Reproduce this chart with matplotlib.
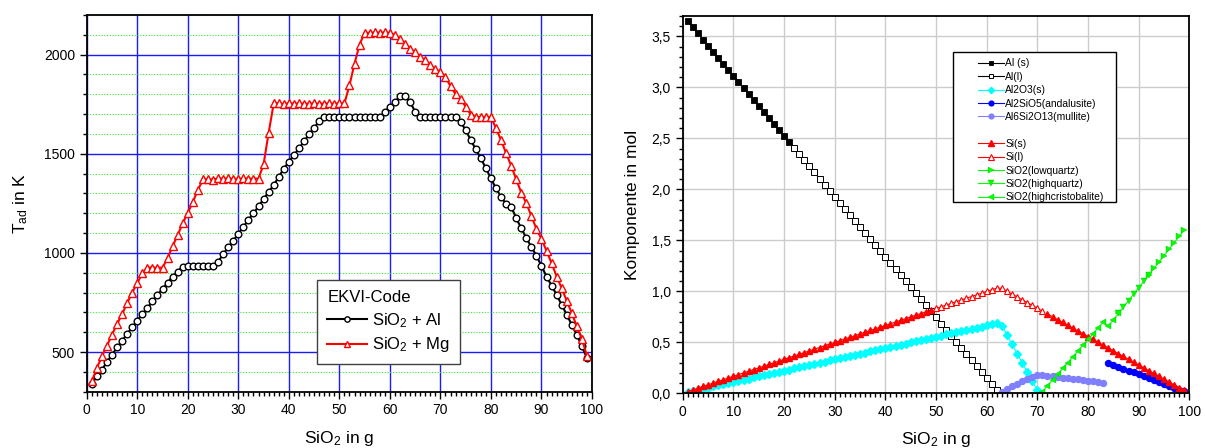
import matplotlib
matplotlib.use('Agg')
import numpy as np
import matplotlib.pyplot as plt
from matplotlib.lines import Line2D
from matplotlib.patches import Rectangle
from matplotlib.ticker import MultipleLocator, FuncFormatter

plt.rcParams['font.family'] = ['Liberation Sans', 'DejaVu Sans']
plt.rcParams['mathtext.fontset'] = 'custom'
plt.rcParams['mathtext.rm'] = 'Liberation Sans'
plt.rcParams['mathtext.it'] = 'Liberation Sans:italic'
plt.rcParams['mathtext.bf'] = 'Liberation Sans:bold'

# ---------------- left chart data ----------------
sio2_g = list(range(1, 100))
t_al = [339, 377, 411, 450, 486, 523, 558, 591, 626, 659,
        691, 722, 755, 788, 819, 850, 881, 906, 931, 934,
        934, 934, 935, 935, 934, 956, 993, 1029, 1062, 1096,
        1132, 1167, 1200, 1235, 1272, 1308, 1342, 1384, 1425, 1460,
        1493, 1527, 1563, 1598, 1632, 1663, 1684, 1685, 1685, 1685,
        1685, 1685, 1685, 1685, 1685, 1685, 1685, 1685, 1711, 1737,
        1762, 1790, 1790, 1762, 1711, 1686, 1685, 1685, 1685, 1685,
        1685, 1685, 1685, 1661, 1619, 1569, 1522, 1477, 1426, 1376,
        1325, 1283, 1247, 1233, 1175, 1124, 1075, 1030, 986, 934,
        881, 835, 788, 738, 688, 637, 587, 528, 470]
t_mg = [352, 419, 478, 532, 587, 641, 691, 747, 800, 847,
        898, 926, 926, 925, 926, 973, 1035, 1090, 1150, 1201,
        1258, 1317, 1371, 1372, 1370, 1376, 1374, 1376, 1374, 1374,
        1376, 1374, 1375, 1375, 1448, 1606, 1754, 1755, 1752, 1755,
        1753, 1754, 1753, 1753, 1754, 1753, 1753, 1754, 1753, 1754,
        1754, 1846, 1955, 2051, 2111, 2110, 2112, 2111, 2112, 2110,
        2099, 2081, 2056, 2031, 2013, 1988, 1972, 1946, 1926, 1913,
        1885, 1841, 1800, 1774, 1737, 1698, 1686, 1686, 1686, 1686,
        1628, 1569, 1502, 1440, 1371, 1304, 1250, 1186, 1121, 1071,
        1010, 948, 881, 822, 758, 696, 629, 565, 481]
left_labels = ['SiO$_2$ + Al', 'SiO$_2$ + Mg']

# ---------------- right chart data ----------------
al_s_x = list(range(1, 22))
al_s = [3.647, 3.588, 3.529, 3.469, 3.410, 3.351, 3.292, 3.232, 3.173, 3.114,
        3.055, 2.995, 2.936, 2.877, 2.818, 2.758, 2.699, 2.640, 2.581, 2.521, 2.462]
al_l_x = list(range(22, 63))
al_l = [2.403, 2.343, 2.284, 2.225, 2.166, 2.106, 2.047, 1.988, 1.929, 1.869,
        1.810, 1.751, 1.692, 1.632, 1.573, 1.514, 1.455, 1.395, 1.336, 1.277,
        1.218, 1.158, 1.099, 1.040, 0.981, 0.921, 0.862, 0.803, 0.744, 0.684,
        0.625, 0.566, 0.507, 0.447, 0.388, 0.329, 0.270, 0.210, 0.151, 0.092, 0.033]
al2o3_x = list(range(1, 71))
al2o3 = [0.011, 0.022, 0.033, 0.044, 0.055, 0.067, 0.078, 0.089, 0.100, 0.111,
         0.122, 0.133, 0.144, 0.155, 0.166, 0.178, 0.189, 0.200, 0.211, 0.222,
         0.233, 0.244, 0.255, 0.266, 0.277, 0.289, 0.300, 0.311, 0.322, 0.333,
         0.344, 0.355, 0.366, 0.377, 0.388, 0.399, 0.411, 0.422, 0.433, 0.444,
         0.455, 0.466, 0.477, 0.488, 0.499, 0.510, 0.522, 0.533, 0.544, 0.555,
         0.566, 0.577, 0.588, 0.599, 0.610, 0.621, 0.632, 0.644, 0.655, 0.666,
         0.677, 0.688, 0.660, 0.570, 0.480, 0.390, 0.300, 0.210, 0.120, 0.030]
andal_x = list(range(84, 100))
andal = [0.297, 0.278, 0.259, 0.241, 0.222, 0.204, 0.185, 0.167,
         0.148, 0.130, 0.111, 0.093, 0.074, 0.056, 0.037, 0.019]
mull_x = list(range(63, 84))
mull = [0.015, 0.040, 0.070, 0.095, 0.120, 0.140, 0.160, 0.175, 0.179, 0.173,
        0.167, 0.161, 0.154, 0.148, 0.142, 0.136, 0.130, 0.124, 0.117, 0.111, 0.105]
si_x = list(range(1, 100))
si = [0.017, 0.033, 0.050, 0.067, 0.083, 0.100, 0.117, 0.133, 0.150, 0.166,
      0.183, 0.200, 0.216, 0.233, 0.250, 0.266, 0.283, 0.300, 0.316, 0.333,
      0.350, 0.366, 0.383, 0.399, 0.416, 0.433, 0.449, 0.466, 0.483, 0.499,
      0.516, 0.533, 0.549, 0.566, 0.583, 0.599, 0.616, 0.632, 0.649, 0.666,
      0.682, 0.699, 0.716, 0.732, 0.749, 0.766, 0.782, 0.799, 0.816, 0.832,
      0.849, 0.865, 0.882, 0.899, 0.915, 0.932, 0.949, 0.965, 0.982, 0.999,
      1.015, 1.032, 1.029, 1.001, 0.973, 0.945, 0.917, 0.890, 0.862, 0.834,
      0.806, 0.778, 0.751, 0.723, 0.695, 0.667, 0.639, 0.612, 0.584, 0.556,
      0.528, 0.500, 0.473, 0.445, 0.417, 0.389, 0.361, 0.334, 0.306, 0.278,
      0.250, 0.222, 0.195, 0.167, 0.139, 0.111, 0.083, 0.056, 0.028]
si_liquid_range = (50, 71)          # x range where Si is liquid
sio2_x = list(range(71, 100))
sio2 = [0.017, 0.074, 0.131, 0.188, 0.244, 0.301, 0.358, 0.415, 0.472, 0.528,
        0.585, 0.642, 0.699, 0.657, 0.720, 0.783, 0.846, 0.909, 0.972, 1.035,
        1.098, 1.161, 1.224, 1.287, 1.350, 1.412, 1.476, 1.538, 1.601]
sio2_phase_ranges = {'highcristobalite': (71, 86), 'highquartz': (86, 92), 'lowquartz': (92, 99)}

right_labels = ['Al (s)', 'Al(l)', 'Al2O3(s)', 'Al2SiO5(andalusite)', 'Al6Si2O13(mullite)',
                'Si(s)', 'Si(l)', 'SiO2(lowquartz)', 'SiO2(highquartz)', 'SiO2(highcristobalite)']

# ---------------- figure ----------------
fig = plt.figure(figsize=(12.05, 4.48), dpi=100)
ax1 = fig.add_axes([0.0720, 0.1257, 0.4193, 0.8408])
ax2 = fig.add_axes([0.5666, 0.1221, 0.4204, 0.8422])

# Left chart
ax1.set_axisbelow(True)
ax1.plot(sio2_g, t_al, color='black', lw=1.5, marker='o', ms=4.8, mfc='white',
         mec='black', mew=1.0, label=left_labels[0])
ax1.plot(sio2_g, t_mg, color='red', lw=1.5, marker='^', ms=5.2, mfc='white',
         mec='red', mew=1.0, label=left_labels[1])
ax1.set_xlim(0, 100)
ax1.set_ylim(300, 2200)
ax1.xaxis.set_major_locator(MultipleLocator(10))
ax1.xaxis.set_minor_locator(MultipleLocator(1))
ax1.yaxis.set_major_locator(MultipleLocator(500))
ax1.yaxis.set_minor_locator(MultipleLocator(100))
ax1.grid(which='major', color='#1a1aff', lw=1.0, ls='-')
ax1.yaxis.grid(which='minor', color='#33ee33', lw=0.8, ls=(0, (1, 1.5)))
ax1.xaxis.grid(which='minor', visible=False)
ax1.tick_params(which='major', direction='out', length=5, width=1, labelsize=10)
ax1.tick_params(which='minor', direction='out', length=3, width=1)
for s in ax1.spines.values():
    s.set_linewidth(1.3)
ax1.set_xlabel('SiO$_2$ in g', fontsize=12.5, labelpad=8)
ax1.set_ylabel('T$_{\\mathrm{ad}}$ in K', fontsize=12.5, labelpad=10)
leg1 = ax1.legend(title='EKVI-Code', loc='upper left', bbox_to_anchor=(0.456, 0.2965),
                  borderaxespad=0, fontsize=12, title_fontsize=12, frameon=True,
                  fancybox=False, edgecolor='#404040', framealpha=1,
                  handlelength=2.4, handletextpad=0.3, borderpad=0.6,
                  labelspacing=0.35, alignment='left', markerscale=0.8)
leg1.get_frame().set_linewidth(1.0)

# Right chart
ax2.set_axisbelow(True)
h_al_s, = ax2.plot(al_s_x, al_s, color='black', lw=0.8, marker='s', ms=3.8,
                   mfc='black', mec='black', mew=0.6)
h_al_l, = ax2.plot(al_l_x, al_l, color='black', lw=0.8, marker='s', ms=3.8,
                   mfc='white', mec='black', mew=0.7)
h_al2o3, = ax2.plot(al2o3_x, al2o3, color='#00ffff', lw=0.8, marker='D', ms=4.0,
                    mfc='#00ffff', mec='#00ffff')
h_andal, = ax2.plot(andal_x, andal, color='#0000ff', lw=0.8, marker='o', ms=4.3,
                    mfc='#0000ff', mec='#0000ff')
h_mull, = ax2.plot(mull_x, mull, color='#8080ff', lw=0.8, marker='o', ms=4.3,
                   mfc='#8080ff', mec='#8080ff')

si_x_arr = np.array(si_x)
si_arr = np.array(si, dtype=float)
liq = (si_x_arr >= si_liquid_range[0]) & (si_x_arr <= si_liquid_range[1])
si_solid = np.where(liq, np.nan, si_arr)
si_liquid = np.where(liq, si_arr, np.nan)
h_si_s, = ax2.plot(si_x_arr, si_solid, color='red', lw=0.8, marker='^', ms=5.0,
                   mfc='red', mec='red')
h_si_l, = ax2.plot(si_x_arr, si_liquid, color='red', lw=0.8, marker='^', ms=5.0,
                   mfc='white', mec='red', mew=0.8)

sio2_x_arr = np.array(sio2_x)
sio2_arr = np.array(sio2, dtype=float)
markers = {'lowquartz': '>', 'highquartz': 'v', 'highcristobalite': '<'}
hs = {}
for ph in ['lowquartz', 'highquartz', 'highcristobalite']:
    lo, hi = sio2_phase_ranges[ph]
    m = (sio2_x_arr >= lo) & (sio2_x_arr <= hi)
    hs[ph], = ax2.plot(sio2_x_arr[m], sio2_arr[m], color='#00ff00', lw=0.8,
                       marker=markers[ph], ms=5.0, mfc='#00ff00', mec='#00cc00', mew=0.3)

ax2.set_xlim(0, 100)
ax2.set_ylim(0, 3.7)
ax2.xaxis.set_major_locator(MultipleLocator(10))
ax2.xaxis.set_minor_locator(MultipleLocator(1))
ax2.yaxis.set_major_locator(MultipleLocator(0.5))
ax2.yaxis.set_minor_locator(MultipleLocator(0.1))
ax2.yaxis.set_major_formatter(FuncFormatter(lambda v, p: f'{v:.1f}'.replace('.', ',')))
ax2.grid(which='major', color='#cccccc', lw=1.0)
ax2.tick_params(which='major', direction='out', length=5, width=1, labelsize=10)
ax2.tick_params(which='minor', direction='out', length=3, width=1)
for s in ax2.spines.values():
    s.set_linewidth(1.3)
ax2.set_xlabel('SiO$_2$ in g', fontsize=12.5, labelpad=8)
ax2.set_ylabel('Komponente in mol', fontsize=12.5, labelpad=8)

blank = Line2D([], [], linestyle='none', marker=None)
handles = [h_al_s, h_al_l, h_al2o3, h_andal, h_mull, blank,
           h_si_s, h_si_l, hs['lowquartz'], hs['highquartz'], hs['highcristobalite']]
labels = right_labels[:5] + [' '] + right_labels[5:]
ax2.add_patch(Rectangle((0.533, 0.5078), 0.3217, 0.3976, transform=ax2.transAxes,
                        facecolor='white', edgecolor='black', lw=1.0, zorder=4))
leg2 = ax2.legend(handles, labels, loc='upper left', bbox_to_anchor=(0.583, 0.8874),
                  borderaxespad=0, borderpad=0, frameon=False, fontsize=7.4,
                  handlelength=2.5, handletextpad=0.15, labelspacing=0.33,
                  markerscale=0.8)
leg2.set_zorder(5)

fig.savefig('out.png', dpi=100)
